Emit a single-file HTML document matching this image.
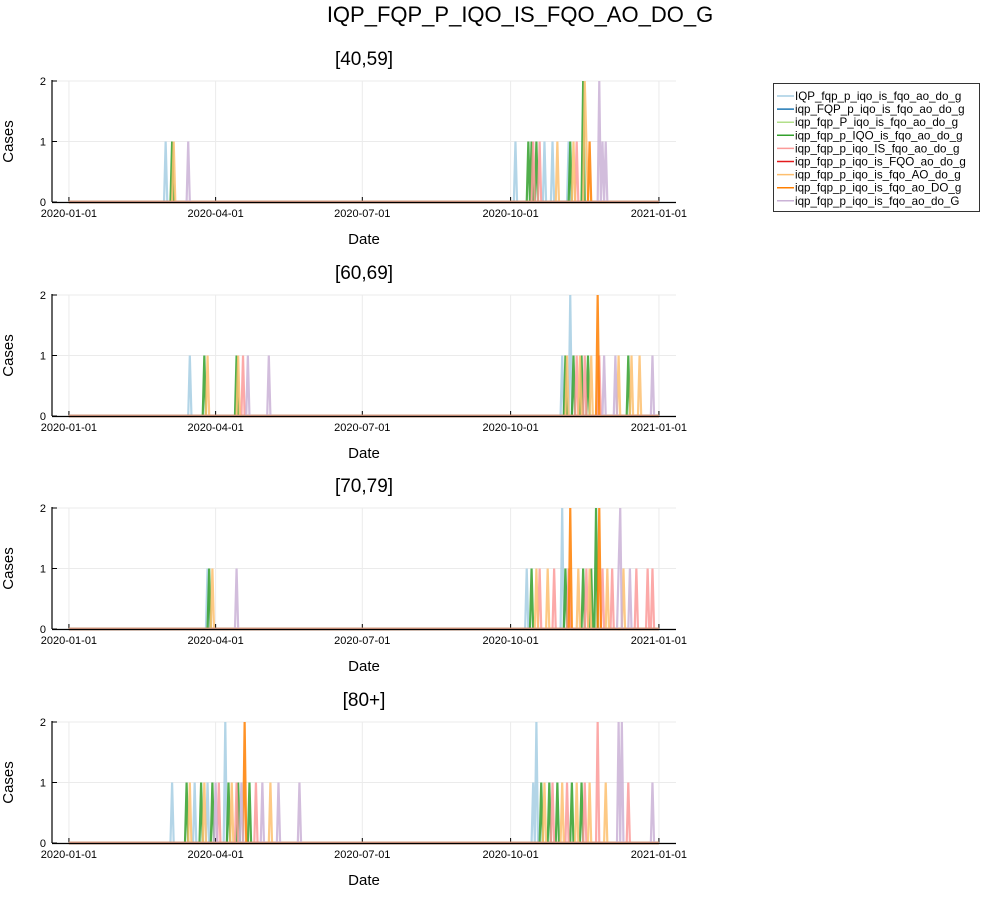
<!DOCTYPE html>
<html><head><meta charset="utf-8"><style>
body{margin:0;background:#fff}
svg text{font-family:"Liberation Sans","DejaVu Sans",sans-serif}
</style></head><body>
<svg id="chart" width="1000" height="900" xmlns="http://www.w3.org/2000/svg">
<rect width="1000" height="900" fill="#fff"/>
<text x="520" y="22" font-size="22" text-anchor="middle">IQP_FQP_P_IQO_IS_FQO_AO_DO_G</text>
<g id="plots"></g>
<g id="legend"></g>
</svg>
<script>
const seriesNames=["IQP_fqp_p_iqo_is_fqo_ao_do_g","iqp_FQP_p_iqo_is_fqo_ao_do_g","iqp_fqp_P_iqo_is_fqo_ao_do_g","iqp_fqp_p_IQO_is_fqo_ao_do_g","iqp_fqp_p_iqo_IS_fqo_ao_do_g","iqp_fqp_p_iqo_is_FQO_ao_do_g","iqp_fqp_p_iqo_is_fqo_AO_do_g","iqp_fqp_p_iqo_is_fqo_ao_DO_g","iqp_fqp_p_iqo_is_fqo_ao_do_G"];
const seriesColors=["#a6cee3","#1f78b4","#b2df8a","#33a02c","#fb9a99","#e31a1c","#fdbf6f","#ff7f00","#cab2d6"];
const panelTitles=["[40,59]","[60,69]","[70,79]","[80+]"];
const xTickLabels=["2020-01-01","2020-04-01","2020-07-01","2020-10-01","2021-01-01"];
const xTickDays=[0,91,182,274,366];
const yTicks=[0,1,2];
// events: [seriesIndex, dayOfYear, cases]
const events40=[[0,60,1],[3,64,1],[6,65,1],[8,74,1],[0,277,1],[3,285,1],[3,287,1],[4,288,1],[3,290,1],[4,292,1],[0,295,1],[0,300,1],[6,303,1],[0,310,1],[3,311,1],[6,313,1],[4,315,1],[3,319,2],[6,320,2],[6,321,1],[7,323,1],[8,329,2],[8,331,1],[8,333,1]];
const events60=[[0,75,1],[3,84,1],[6,86,1],[3,104,1],[6,105,1],[4,108,1],[8,111,1],[8,124,1],[0,306,1],[3,308,1],[6,309,1],[0,311,2],[3,313,1],[4,315,1],[6,317,1],[3,318,1],[4,320,1],[3,322,1],[6,324,1],[7,328,2],[4,329,1],[8,332,1],[8,339,1],[6,341,1],[3,347,1],[6,349,1],[6,354,1],[8,362,1]];
const events70=[[0,86,1],[3,87,1],[6,89,1],[8,104,1],[0,284,1],[3,287,1],[6,290,1],[4,292,1],[6,297,1],[4,301,1],[0,306,2],[3,308,1],[4,310,1],[7,311,2],[6,316,1],[3,319,1],[4,321,1],[6,323,1],[3,324,1],[3,327,2],[7,329,2],[4,331,1],[6,334,1],[4,337,1],[8,341,1],[8,342,2],[6,344,1],[8,348,1],[4,352,1],[4,359,1],[4,362,1]];
const events80=[[0,64,1],[3,73,1],[6,75,1],[0,78,1],[3,82,1],[6,84,1],[0,86,1],[3,89,1],[8,91,1],[4,93,1],[0,97,2],[3,99,1],[6,101,1],[4,104,1],[3,105,1],[8,107,1],[7,109,2],[3,112,1],[4,116,1],[8,120,1],[6,125,1],[8,130,1],[8,143,1],[0,288,1],[0,290,2],[3,293,1],[6,295,1],[3,298,1],[4,300,1],[3,303,1],[6,306,1],[4,309,1],[3,312,1],[6,315,1],[3,318,1],[4,320,1],[6,323,1],[4,328,2],[6,333,1],[8,341,2],[8,343,2],[4,347,1],[8,362,1]];
const allEvents=[events40,events60,events70,events80];

const NS="http://www.w3.org/2000/svg";
const plots=document.getElementById('plots');
const X0=52,X1=676,DMIN=-10.5,DMAX=376.6;
const xs=d=>X0+(d-DMIN)/(DMAX-DMIN)*(X1-X0);
const panelTop=[81,295,508,722],H=121;
function mk(tag,attrs,parent){const e=document.createElementNS(NS,tag);for(const k in attrs)e.setAttribute(k,attrs[k]);parent.appendChild(e);return e;}
panelTitles.forEach((t,p)=>{
  const top=panelTop[p],bot=top+H;
  const ys=v=>bot-v/2*H;
  const g=mk('g',{},plots);
  
  
  xTickDays.forEach((d,i)=>{
    const gl=mk('line',{x1:xs(d),x2:xs(d),y1:top,y2:bot,stroke:'#ebebeb','stroke-width':1},g);
    
    
    mk('line',{x1:xs(d),x2:xs(d),y1:bot,y2:bot-5,stroke:'#000'},g);
    const tl=mk('text',{x:xs(d),y:bot+15,'font-size':11,'text-anchor':'middle'},g);
    tl.textContent=xTickLabels[i];
    
    
  });
  yTicks.forEach(v=>{
    const gl=mk('line',{x1:X0,x2:X1,y1:ys(v),y2:ys(v),stroke:'#ebebeb','stroke-width':1},g);
    
    
    mk('line',{x1:X0,x2:X0+5,y1:ys(v),y2:ys(v),stroke:'#000'},g);
    const tl=mk('text',{x:X0-6,y:ys(v)+4,'font-size':11,'text-anchor':'end'},g);
    tl.textContent=v;
    
    
  });
  const ev=allEvents[p];
  seriesNames.forEach((n,s)=>{
    const vals=new Array(367).fill(0);
    ev.forEach(e=>{if(e[0]===s)vals[e[1]]=e[2];});
    let d='';
    vals.forEach((v,i)=>{d+=(i?'L':'M')+xs(i).toFixed(2)+','+ys(v).toFixed(2);});
    const pl=mk('path',{d:d,fill:'none',stroke:seriesColors[s],'stroke-width':2.2,'stroke-opacity':0.85,'stroke-linejoin':'miter'},g);
    
    
  });
  mk('line',{x1:xs(0),x2:xs(366),y1:ys(0),y2:ys(0),stroke:'#dc9c84','stroke-width':2.2},g);
  mk('line',{x1:X0,x2:X0,y1:top-1,y2:bot,stroke:'#000','stroke-width':1.2},g);
  mk('line',{x1:X0,x2:X1,y1:bot+0.5,y2:bot+0.5,stroke:'#000','stroke-width':1.2},g);
  const tt=mk('text',{x:364,y:top-16,'font-size':19,'text-anchor':'middle'},g);
  tt.textContent=t;
  
  
  const xl=mk('text',{x:364,y:bot+42,'font-size':15,'text-anchor':'middle'},g);
  xl.textContent='Date';
  
  
  const yl=mk('text',{x:13,y:top+H/2,'font-size':15,'text-anchor':'middle',transform:'rotate(-90 13 '+(top+H/2)+')'},g);
  yl.textContent='Cases';
  
  
});
const lg=document.getElementById('legend');
mk('rect',{x:773.5,y:83.5,width:206,height:128,fill:'#fff',stroke:'#333','stroke-width':1},lg);
seriesNames.forEach((n,i)=>{
  const y=96+i*13.1;
  mk('line',{x1:777,x2:794,y1:y,y2:y,stroke:seriesColors[i],'stroke-width':1.5},lg);
  const t=mk('text',{x:795,y:y+4,'font-size':11.6},lg);
  t.textContent=n;
  
  
});
</script>
</body></html>
